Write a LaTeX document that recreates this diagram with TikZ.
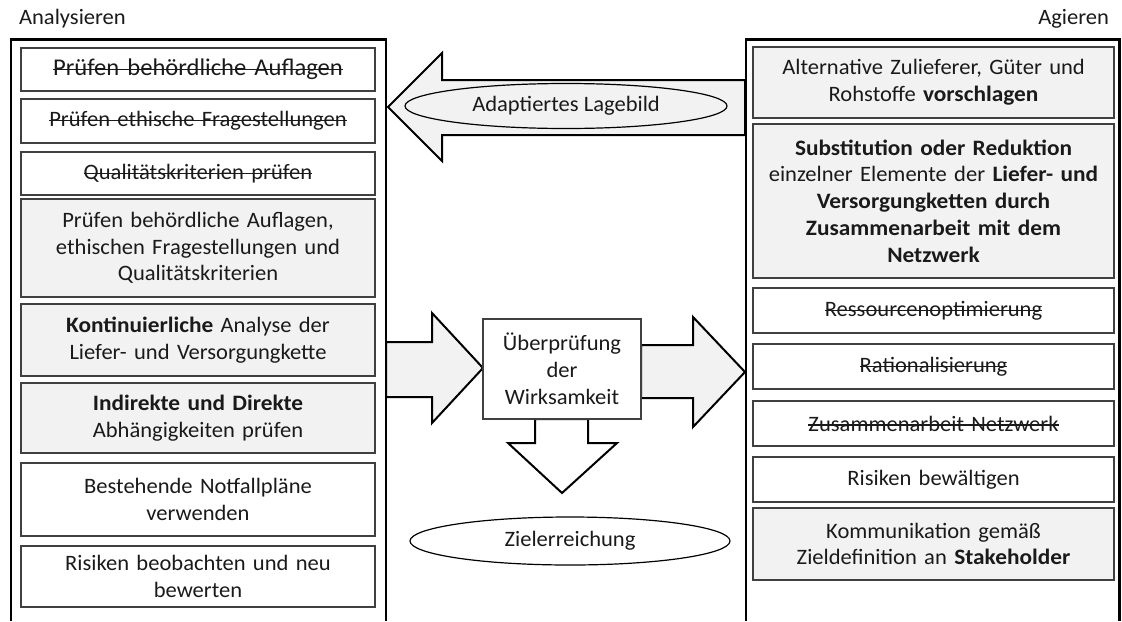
\documentclass[tikz,border=0pt]{standalone}
\usepackage{fontspec}
\setmainfont[FakeStretch=1.025, BoldFeatures={FakeStretch=1.06}]{Carlito}
\usetikzlibrary{shapes.geometric}
\definecolor{boxgray}{HTML}{F2F2F2}
\definecolor{txt}{HTML}{1A1A1A}
\newsavebox{\strikebox}
\newcommand{\strikeout}[1]{\leavevmode\sbox{\strikebox}{#1}\rlap{\vrule height 0.3em depth -0.25em width \wd\strikebox}\usebox{\strikebox}}

\begin{document}
\begin{tikzpicture}[x=0.5pt, y=-0.5pt,
    every node/.style={font=\fontsize{11}{13.4}\selectfont, text=txt},
    item/.style={rectangle, draw=black!75, line width=0.6pt, align=center, inner sep=0pt},
    litem/.style={item, minimum width=177pt, text width=176pt},
    ritem/.style={item, minimum width=180.5pt, text width=180pt},
    shaded/.style={fill=boxgray},
    frame/.style={line width=1.4pt},
    blockarrow/.style={draw, line width=1pt, line join=miter},
    oval/.style={ellipse, draw, line width=0.6pt, inner sep=0pt},
    heading/.style={}
]
    \useasboundingbox (0,0) rectangle (1122,621);

    % Headings
    \node[heading, anchor=base west] (analyse) at (12,25) {Analysieren};
    \node[heading, anchor=base east] (agieren) at (1116,25) {Agieren};

    % Lagebild arrow (back to the left)
    \draw[blockarrow, fill=boxgray] (745,80) -- (442,80) -- (442,53) -- (388,107)
        -- (442,161) -- (442,135) -- (745,135) -- cycle;
    \node[oval, fill=boxgray, minimum width=161pt, minimum height=22.5pt] (lagebild) at (566,106) {Adaptiertes Lagebild};

    % Frames
    \draw[frame] (11,621) -- (11,39.5) -- (386,39.5) -- (386,621);
    \draw[frame] (746,621) -- (746,39.5) -- (1119.5,39.5) -- (1119.5,621);

    % Analysieren
    \node[litem, minimum height=21.5pt, font=\fontsize{12}{14.6}\selectfont] (l1) at (198,69.5) {\strikeout{Prüfen behördliche Auflagen}};
    \node[litem, minimum height=22pt] (l2) at (198,121) {\strikeout{Prüfen ethische Fragestellungen}};
    \node[litem, minimum height=21.5pt] (l3) at (198,173.5) {\strikeout{Qualitätskriterien prüfen}};
    \node[litem, shaded, minimum height=49pt] (l4) at (198,248) {Prüfen behördliche Auflagen,\\ethischen Fragestellungen und\\Qualitätskriterien};
    \node[litem, shaded, minimum height=36pt] (l5) at (198,340) {\textbf{Kontinuierliche} Analyse der\\Liefer- und Versorgungkette};
    \node[litem, shaded, minimum height=35pt] (l6) at (198,418) {\textbf{Indirekte und Direkte}\\Abhängigkeiten prüfen};
    \node[litem, minimum height=36.5pt] (l7) at (198,499.5) {Bestehende Notfallpläne\\verwenden};
    \node[litem, minimum height=30.5pt] (l8) at (198,576.5) {Risiken beobachten und neu\\bewerten};

    % Agieren
    \node[ritem, shaded, minimum height=35.5pt] (r1) at (933.5,82.5) {Alternative Zulieferer, Güter und\\Rohstoffe \textbf{vorschlagen}};
    \node[ritem, shaded, minimum height=77pt] (r2) at (933.5,201) {\textbf{Substitution oder Reduktion}\\einzelner Elemente der \textbf{Liefer- und}\\\textbf{Versorgungketten durch}\\\textbf{Zusammenarbeit mit dem}\\\textbf{Netzwerk}};
    \node[ritem, minimum height=22.5pt] (r3) at (933.5,310.5) {\strikeout{Ressourcenoptimierung}};
    \node[ritem, minimum height=22.5pt] (r4) at (933.5,366.5) {\strikeout{Rationalisierung}};
    \node[ritem, minimum height=22.5pt] (r5) at (933.5,423.5) {\strikeout{Zusammenarbeit Netzwerk}};
    \node[ritem, minimum height=22.5pt] (r6) at (933.5,479.5) {Risiken bewältigen};
    \node[ritem, shaded, minimum height=36pt] (r7) at (933.5,544) {Kommunikation gemäß\\Zieldefinition an \textbf{Stakeholder}};

    % Wirksamkeit
    \draw[blockarrow, fill=boxgray] (386,342) -- (432,342) -- (432,313) -- (483,368)
        -- (432,423) -- (432,397) -- (386,397) -- cycle;
    \draw[blockarrow, fill=boxgray] (641,345) -- (693,345) -- (693,317) -- (745,372)
        -- (693,427) -- (693,398) -- (641,398) -- cycle;
    \draw[blockarrow, fill=white] (535,419) -- (535,443) -- (508,443) -- (562,493)
        -- (617,443) -- (588,443) -- (588,419) -- cycle;
    \node[item, fill=white, minimum width=79pt, minimum height=50pt, text width=78pt] (check) at (562,369) {Überprüfung\\der\\Wirksamkeit};

    % Ziel
    \node[oval, fill=white, minimum width=160pt, minimum height=24pt] (ziel) at (570,541) {Zielerreichung};
\end{tikzpicture}
\end{document}
